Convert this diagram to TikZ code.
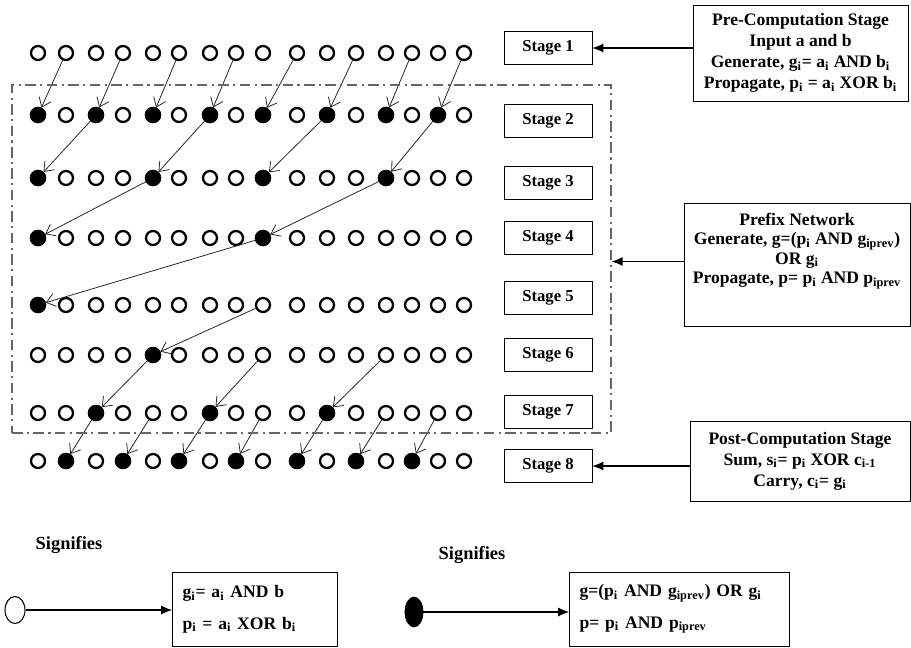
\documentclass[tikz,border=0pt]{standalone}
\usepackage{fontspec}
\setmainfont{Liberation Serif}
\usepackage{tikz}
\usetikzlibrary{arrows.meta,positioning,shapes.geometric}

\begin{document}
\begin{tikzpicture}[
  x=0.02cm, y=-0.02cm,
  font=\bfseries\fontsize{10}{12}\selectfont,
  hole/.style={circle, draw, line width=1.3pt, minimum size=0.28cm, inner sep=0pt, fill=white},
  dot/.style={hole, fill=black},
  stagebox/.style={draw, minimum width=1.76cm, minimum height=0.66cm, font=\bfseries\fontsize{9.5}{11}\selectfont},
  infobox/.style={draw, align=center, inner sep=2pt},
  netframe/.style={draw=black!60, line width=0.8pt, dash pattern=on 6pt off 2.5pt on 1.2pt off 2.5pt, inner sep=0pt},
  link/.style={-{Straight Barb[length=1.7mm, width=2.6mm]}, line width=0.45pt, black!85},
  arrow/.style={-{Latex[length=2.2mm, width=1.8mm]}, line width=0.6pt}
]
\useasboundingbox (0,0) rectangle (911,647);

% rows of bits
\foreach \y [count=\r] in {53,115,178,238,305,355,413,461}
  \foreach \x [count=\c] in {38,66,96,123,153,179,210,236,263,297,327,356,386,412,438,464}
    \node[hole] (n\r-\c) at (\x,\y) {};

% generate/propagate nodes
\foreach \r/\cols in {2/{1,3,5,7,9,11,13,15}, 3/{1,5,9,13}, 4/{1,9}, 5/{1}, 6/{5}, 7/{3,7,11}, 8/{2,4,6,8,10,12,14}}
  \foreach \c in \cols
    \node[dot] (n\r-\c) at (n\r-\c) {};

% connections between stages
\foreach \a/\b/\p/\q in {1/2/2/1, 1/4/2/3, 1/6/2/5, 1/8/2/7, 1/10/2/9, 1/12/2/11, 1/14/2/13, 1/16/2/15,
                         2/3/3/1, 2/7/3/5, 2/11/3/9, 2/15/3/13,
                         3/5/4/1, 3/13/4/9,
                         4/9/5/1,
                         5/9/6/5,
                         6/5/7/3, 6/9/7/7, 6/13/7/11,
                         7/3/8/2, 7/5/8/4, 7/7/8/6, 7/9/8/8, 7/11/8/10, 7/13/8/12, 7/15/8/14}
  \draw[link] (n\a-\b) -- (n\p-\q);

% stage labels
\foreach \y [count=\s] in {48,121,183,238,298,355,412,466}
  \node[stagebox] (st\s) at (548,\y) {Stage \s};

\node[netframe, minimum width=11.98cm, minimum height=6.96cm] (net) at (311.5,259) {};

% stage descriptions
\node[infobox, minimum width=4.3cm, minimum height=1.92cm] (pre) at (800.5,53)
  {Pre-Computation Stage\\Input a and b\\Generate, g\textsubscript{i}= a\textsubscript{i} AND b\textsubscript{i}\\Propagate, p\textsubscript{i} = a\textsubscript{i} XOR b\textsubscript{i}};
\node[draw, minimum width=4.52cm, minimum height=2.46cm] (prefix) at (797,264.5) {};
\node[align=center, anchor=north, inner sep=0pt] (prefixtxt) at ([yshift=-0.2cm]prefix.north)
  {Prefix Network\\[-1pt]Generate, g=(p\textsubscript{i} AND g\textsubscript{iprev})\\[-1pt]OR g\textsubscript{i}\\[-1pt]Propagate, p= p\textsubscript{i} AND p\textsubscript{iprev}};
\node[infobox, minimum width=4.4cm, minimum height=1.6cm] (post) at (800,461)
  {Post-Computation Stage\\Sum, s\textsubscript{i}= p\textsubscript{i} XOR c\textsubscript{i-1}\\Carry, c\textsubscript{i}= g\textsubscript{i}};

\draw[arrow] (st1.east -| pre.west) -- (st1.east);
\draw[arrow] (prefix.west) ++(0,-3) coordinate (pw) -- (pw -| net.east);
\draw[arrow] (st8.east -| post.west) -- (st8.east);

% legend
\node[font=\bfseries\fontsize{10.5}{12}\selectfont] (sig1) at (69,545) {Signifies};
\node[font=\bfseries\fontsize{10.5}{12}\selectfont] (sig2) at (472,555) {Signifies};
\node[ellipse, draw, line width=0.6pt, minimum width=0.4cm, minimum height=0.54cm, inner sep=0pt] (lego) at (15,610) {};
\node[ellipse, draw, fill=black, minimum width=0.36cm, minimum height=0.6cm, inner sep=0pt] (legf) at (414,612) {};
\node[draw, minimum width=3.2cm, minimum height=1.48cm, align=left, text width=2.9cm, inner xsep=0.2cm] (lbox1) at (255,609)
  {g\textsubscript{i}= a\textsubscript{i} AND b\\[6pt]p\textsubscript{i} = a\textsubscript{i} XOR b\textsubscript{i}};
\node[draw, minimum width=4.34cm, minimum height=1.48cm, align=left, text width=4.0cm, inner xsep=0.2cm] (lbox2) at (679.5,609)
  {g=(p\textsubscript{i} AND g\textsubscript{iprev}) OR g\textsubscript{i}\\[6pt]p= p\textsubscript{i} AND p\textsubscript{iprev}};
\draw[arrow] (lego.east) -- (lego.east -| lbox1.west);
\draw[arrow] (legf.east) -- (legf.east -| lbox2.west);
\end{tikzpicture}
\end{document}
